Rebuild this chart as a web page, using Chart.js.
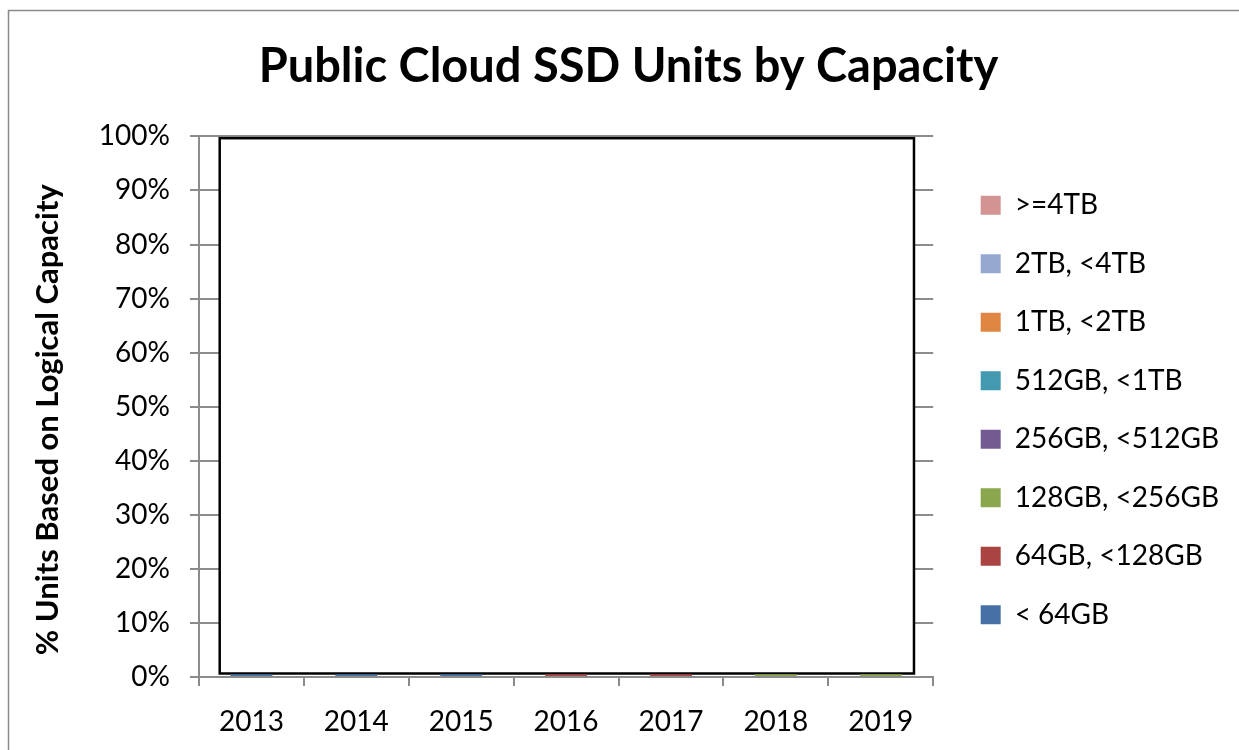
<!DOCTYPE html>
<html>
<head>
<meta charset="utf-8">
<script src="https://cdn.jsdelivr.net/npm/chart.js@4/dist/chart.umd.min.js"></script>
<style>
  html, body { margin: 0; padding: 0; background: #fff; }
  #wrap { width: 1239px; height: 750px; position: relative; }
</style>
</head>
<body>
<div id="wrap"><canvas id="chart" width="1239" height="750"></canvas></div>
<script>
const years = ["2013", "2014", "2015", "2016", "2017", "2018", "2019"];

// stacked from the bottom up; only thin slivers are visible above the axis
const under64GB = [0.5, 0.5, 0.5, 0, 0, 0, 0];
const gb64to128 = [0, 0, 0, 0.5, 0.5, 0, 0];
const gb128to256 = [0, 0, 0, 0, 0, 0.5, 0.5];
const gb256to512 = [0, 0, 0, 0, 0, 0, 0];
const gb512to1TB = [0, 0, 0, 0, 0, 0, 0];
const tb1to2 = [0, 0, 0, 0, 0, 0, 0];
const tb2to4 = [0, 0, 0, 0, 0, 0, 0];
const tb4plus = [0, 0, 0, 0, 0, 0, 0];

const seriesNames = ["< 64GB", "64GB, <128GB", "128GB, <256GB", "256GB, <512GB",
  "512GB, <1TB", "1TB, <2TB", "2TB, <4TB", ">=4TB"];
const seriesData = [under64GB, gb64to128, gb128to256, gb256to512, gb512to1TB, tb1to2, tb2to4, tb4plus];
const seriesColors = ["#4770A7", "#A94442", "#8BA74E", "#735A93", "#4299B0", "#DE8642", "#95A9D0", "#D39393"];

const chartTitle = "Public Cloud SSD Units by Capacity";
const yTitle = "% Units Based on Logical Capacity";

const FONT = "Lato, 'Open Sans', sans-serif";
const GRAY = "#8c8c8c";
const LEGEND_SHIFT = 17;

const framePlugin = {
  id: "frame",
  afterLayout(chart) {
    // nudge legend and title to where the original sits
    chart.legend.left += LEGEND_SHIFT;
    chart.legend.right += LEGEND_SHIFT;
    chart.legend.top += 30;
    chart.legend.bottom += 30;
    chart.titleBlock.left += 13;
    chart.titleBlock.right += 13;
  },
  beforeDraw(chart) {
    // outer frame of the chart object
    const ctx = chart.ctx;
    ctx.save();
    ctx.strokeStyle = "#8a8a8a";
    ctx.lineWidth = 1.5;
    ctx.beginPath();
    ctx.moveTo(8.5, 750);
    ctx.lineTo(8.5, 10.5);
    ctx.lineTo(1239, 10.5);
    ctx.stroke();
    ctx.restore();
  },
  beforeDatasetsDraw(chart) {
    // white box with black border over the plot
    const a = chart.chartArea;
    const ctx = chart.ctx;
    ctx.save();
    ctx.fillStyle = "#fff";
    ctx.strokeStyle = "#000";
    ctx.lineWidth = 2.5;
    const x = a.left + 20.7, y = a.top + 1.8;
    const w = a.right - 19.2 - x, h = a.bottom - 3.5 - y;
    ctx.fillRect(x, y, w, h);
    ctx.strokeRect(x, y, w, h);
    ctx.restore();
  },
  afterDraw(chart) {
    // rotated y axis title
    const a = chart.chartArea;
    const ctx = chart.ctx;
    ctx.save();
    ctx.translate(48, (a.top + a.bottom) / 2 + 13);
    ctx.rotate(-Math.PI / 2);
    ctx.fillStyle = "#000";
    ctx.font = "bold 31px " + FONT;
    ctx.textAlign = "center";
    ctx.textBaseline = "middle";
    ctx.fillText(yTitle, 0, 0);
    ctx.restore();
  }
};

new Chart(document.getElementById("chart"), {
  type: "bar",
  data: {
    labels: years,
    datasets: seriesNames.map((name, i) => ({
      label: name,
      data: seriesData[i],
      backgroundColor: seriesColors[i],
      borderWidth: 0,
      categoryPercentage: 1,
      barPercentage: 0.4
    }))
  },
  options: {
    responsive: false,
    animation: false,
    layout: { padding: { left: 19, right: 10 + LEGEND_SHIFT, top: 10, bottom: 0 } },
    plugins: {
      title: {
        display: true,
        text: chartTitle,
        color: "#000",
        font: { family: FONT, size: 47, weight: "bold" },
        padding: { top: 29, bottom: 41 }
      },
      legend: {
        position: "right",
        reverse: true,
        labels: {
          color: "#000",
          font: { family: FONT, size: 28 },
          boxWidth: 20,
          boxHeight: 19,
          padding: 30.5
        }
      },
      tooltip: { enabled: false }
    },
    scales: {
      x: {
        stacked: true,
        z: 1,
        grid: { display: true, drawOnChartArea: false, offset: true, color: GRAY, lineWidth: 2, tickLength: 9 },
        border: { display: true, color: GRAY, width: 2 },
        ticks: { color: "#000", font: { family: FONT, size: 28 }, padding: 19 },
        afterFit(scale) { scale.height = 73; }
      },
      y: {
        stacked: true,
        min: 0,
        max: 100,
        grid: { color: GRAY, lineWidth: 2, tickLength: 9 },
        border: { display: true, color: GRAY, width: 2 },
        ticks: {
          stepSize: 10,
          color: "#000",
          font: { family: FONT, size: 28 },
          padding: 20,
          callback: (v) => v + "%"
        },
        afterFit(scale) { scale.width = 180; }
      }
    }
  },
  plugins: [framePlugin]
});
</script>
</body>
</html>
